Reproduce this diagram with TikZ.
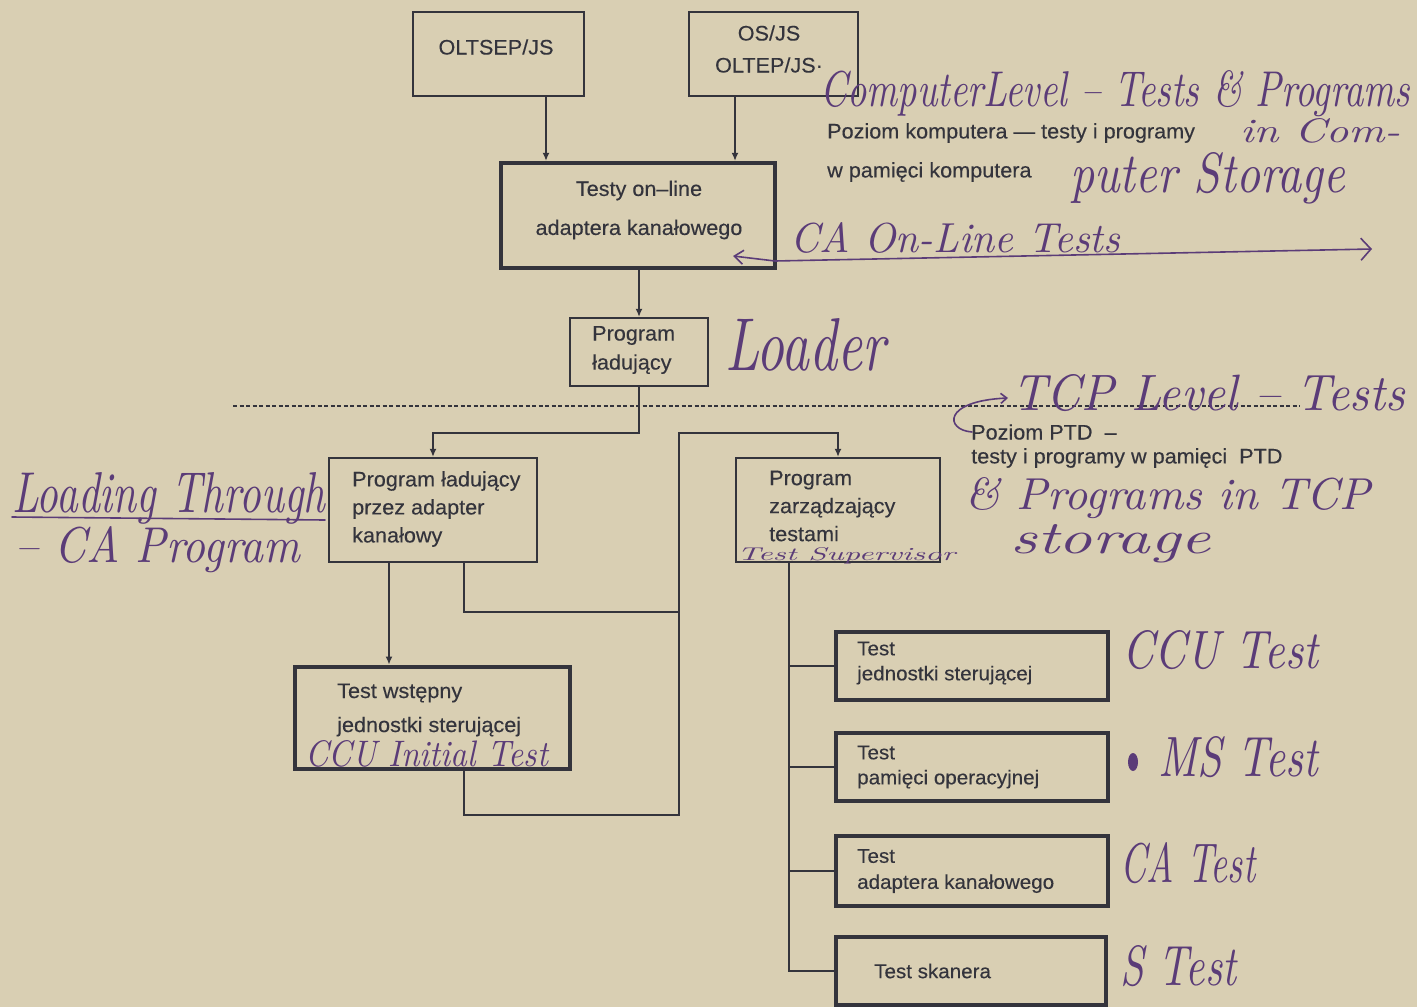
\documentclass[tikz,border=0pt]{standalone}
\usepackage{fontspec}
\usepackage{graphicx}
\newfontfamily\pf{Liberation Sans}[FakeStretch=1.03,FakeBold=0.3]
\usetikzlibrary{arrows.meta,shapes.geometric}
\definecolor{paper}{HTML}{D9CFB3}
\definecolor{ink}{HTML}{34343C}
\definecolor{pen}{HTML}{5B3C78}
\newcommand\hw[3]{\resizebox{#1pt}{#2pt}{\itshape #3}}
\begin{document}
\begin{tikzpicture}[x=1pt,y=-1pt,
  box/.style={draw=ink, line width=2.2pt, inner sep=0pt},
  heavybox/.style={box, line width=4.8pt},
  ptxt/.style={text=ink, font=\pf\fontsize{21}{28}\selectfont, inner sep=0pt, align=left},
  stxt/.style={ptxt, anchor=west, font=\pf\fontsize{21}{25}\selectfont},
  conn/.style={draw=ink, line width=2pt},
  arr/.style={conn, -{Latex[length=8pt,width=7pt]}},
  hand/.style={text=pen, inner sep=0pt, anchor=base west},
  penline/.style={draw=pen, line width=1.6pt, line cap=round, line join=round}]
\fill[paper] (0,0) rectangle (1417,1007);
\useasboundingbox (0,0) rectangle (1417,1007);

% boxes
\node[box, minimum width=171pt, minimum height=84pt] (A) at (498.5,54) {};
\node[box, minimum width=169pt, minimum height=84pt] (B) at (773.5,54) {};
\node[heavybox, line width=4.2pt, minimum width=274pt, minimum height=105pt] (C) at (638,215.5) {};
\node[box, minimum width=138pt, minimum height=68pt] (D) at (639,352) {};
\node[box, minimum width=208pt, minimum height=104pt] (E) at (433,510) {};
\node[box, minimum width=204pt, minimum height=104pt] (F) at (838,510) {};
\node[heavybox, minimum width=275pt, minimum height=102pt] (G) at (432.5,718) {};
\node[heavybox, minimum width=272pt, minimum height=68pt] (H1) at (972,666) {};
\node[heavybox, minimum width=272pt, minimum height=68pt] (H2) at (972,767) {};
\node[heavybox, minimum width=272pt, minimum height=70pt] (H3) at (972,871) {};
\node[heavybox, minimum width=270pt, minimum height=68pt] (H4) at (971,971) {};

% printed texts in boxes
\node[ptxt, align=center] (At) at (496,47) {OLTSEP/JS};
\node[ptxt, align=center, font=\pf\fontsize{21}{32}\selectfont] (Bt) at (769,49) {OS/JS\\OLTEP/JS·};
\node[ptxt, align=center, font=\pf\fontsize{21}{39}\selectfont] (Ct) at (639,210) {Testy on–line\\adaptera kanałowego};
\node[ptxt, anchor=west, font=\pf\fontsize{21}{29}\selectfont] (Dt) at (592,350) {Program\\ładujący};
\node[ptxt, anchor=west] (Et) at (352,509) {Program ładujący\\przez adapter\\kanałowy};
\node[ptxt, anchor=west] (Ft) at (769,506) {Program\\zarządzający\\testami};
\node[ptxt, anchor=west, font=\pf\fontsize{21}{34}\selectfont] (Gt) at (337,710) {Test wstępny\\jednostki sterującej};
\node[ptxt, anchor=west, font=\pf\fontsize{20}{25}\selectfont] (H1t) at (857,663) {Test\\jednostki sterującej};
\node[ptxt, anchor=west, font=\pf\fontsize{20}{25}\selectfont] (H2t) at (857,767) {Test\\pamięci operacyjnej};
\node[ptxt, anchor=west, font=\pf\fontsize{20}{26}\selectfont] (H3t) at (857,871) {Test\\adaptera kanałowego};
\node[ptxt, anchor=west, font=\pf\fontsize{20}{25}\selectfont] (H4t) at (874,971) {Test skanera};

% printed side texts
\node[stxt] (L1) at (827,133) {Poziom komputera — testy i programy};
\node[stxt] (L2) at (827,172) {w pamięci komputera};
\node[stxt] (L3) at (971,432) {Poziom PTD \ –};
\node[stxt] (L4) at (971,458) {testy i programy w pamięci \ PTD};

% helper coordinates
\coordinate (xa) at (546,0);
\coordinate (xb) at (735,0);
\coordinate (xg) at (389,0);
\coordinate (xl) at (464,0);
\coordinate (xf) at (789,0);
\coordinate (j1) at (639,433);
\coordinate (bus) at (679,815);
\coordinate (bj) at (679,612);
\coordinate (bt) at (679,433);

% connectors
\draw[arr] (A.south -| xa) -- (C.north -| xa);
\draw[arr] (B.south -| xb) -- (C.north -| xb);
\draw[arr] (C.south -| D.north) -- (D.north);
\draw[arr] (D.south) -- (j1) -| (E.north);
\draw[arr] (E.south -| xg) -- (G.north -| xg);
\draw[arr] (G.south -| xl) |- (bus) -- (bt) -| (F.north);
\draw[conn] (E.south -| xl) |- (bj);
\draw[conn] (F.south -| xf) |- (H4.west);
\draw[conn] (xf |- H1.west) -- (H1.west);
\draw[conn] (xf |- H2.west) -- (H2.west);
\draw[conn] (xf |- H3.west) -- (H3.west);

% level separator
\coordinate (d1) at (233,406);
\coordinate (d2) at (1300,406);
\draw[ink, line width=1.6pt, dash pattern=on 4pt off 2.5pt] (d1) -- (d2);

% handwritten annotations
\node[hand] (h1) at (820,106) {\hw{590}{36}{ComputerLevel – Tests \& Programs}};
\node[hand] (h2) at (1240,142) {\hw{160}{24}{in Com-}};
\node[hand] (h3) at (1070,192) {\hw{275}{40}{puter Storage}};
\node[hand] (h4) at (790,252) {\hw{330}{30}{CA On-Line Tests}};
\node[hand] (h5) at (725,370) {\hw{160}{52}{Loader}};
\node[hand] (h6) at (1012,410) {\hw{393}{36}{TCP Level – Tests}};
\node[hand] (h7) at (965,509) {\hw{405}{32}{\& Programs in TCP}};
\node[hand] (h8) at (1010,553) {\hw{200}{29}{storage}};
\node[hand] (h9) at (12,512) {\hw{313}{40}{Loading Through}};
\node[hand] (h10) at (15,562) {\hw{285}{36}{– CA Program}};
\node[hand] (h11) at (737,560) {\hw{218}{13}{Test Supervisor}};
\node[hand] (h12) at (305,766) {\hw{243}{26}{CCU Initial Test}};
\node[hand] (h13) at (1122,668) {\hw{196}{38}{CCU Test}};
\node[hand] (h14) at (1158,776) {\hw{160}{40}{MS Test}};
\node[hand] (h15) at (1120,882) {\hw{135}{40}{CA Test}};
\node[hand] (h16) at (1120,985) {\hw{116}{40}{S Test}};

% handwritten marks
\coordinate (ca1) at (733,256);
\coordinate (ca2) at (775,261);
\coordinate (ca3) at (1372,249);
\draw[penline, {Straight Barb[length=9pt,width=14pt]}-{Straight Barb[length=10pt,width=22pt]}] (ca1) -- (ca2) -- (ca3);
\coordinate (u1) at (12,517);
\coordinate (u2) at (325,520);
\draw[penline] (u1) -- (u2);
\coordinate (t1) at (972,432);
\coordinate (t2) at (1008,398);
\draw[penline, -{Straight Barb[length=6pt,width=10pt]}] (t1) .. controls (945,430) and (942,401) .. (t2);
\node[fill=pen, ellipse, inner sep=0pt, minimum width=10pt, minimum height=18pt] (blob) at (1133,762) {};
\end{tikzpicture}
\end{document}
